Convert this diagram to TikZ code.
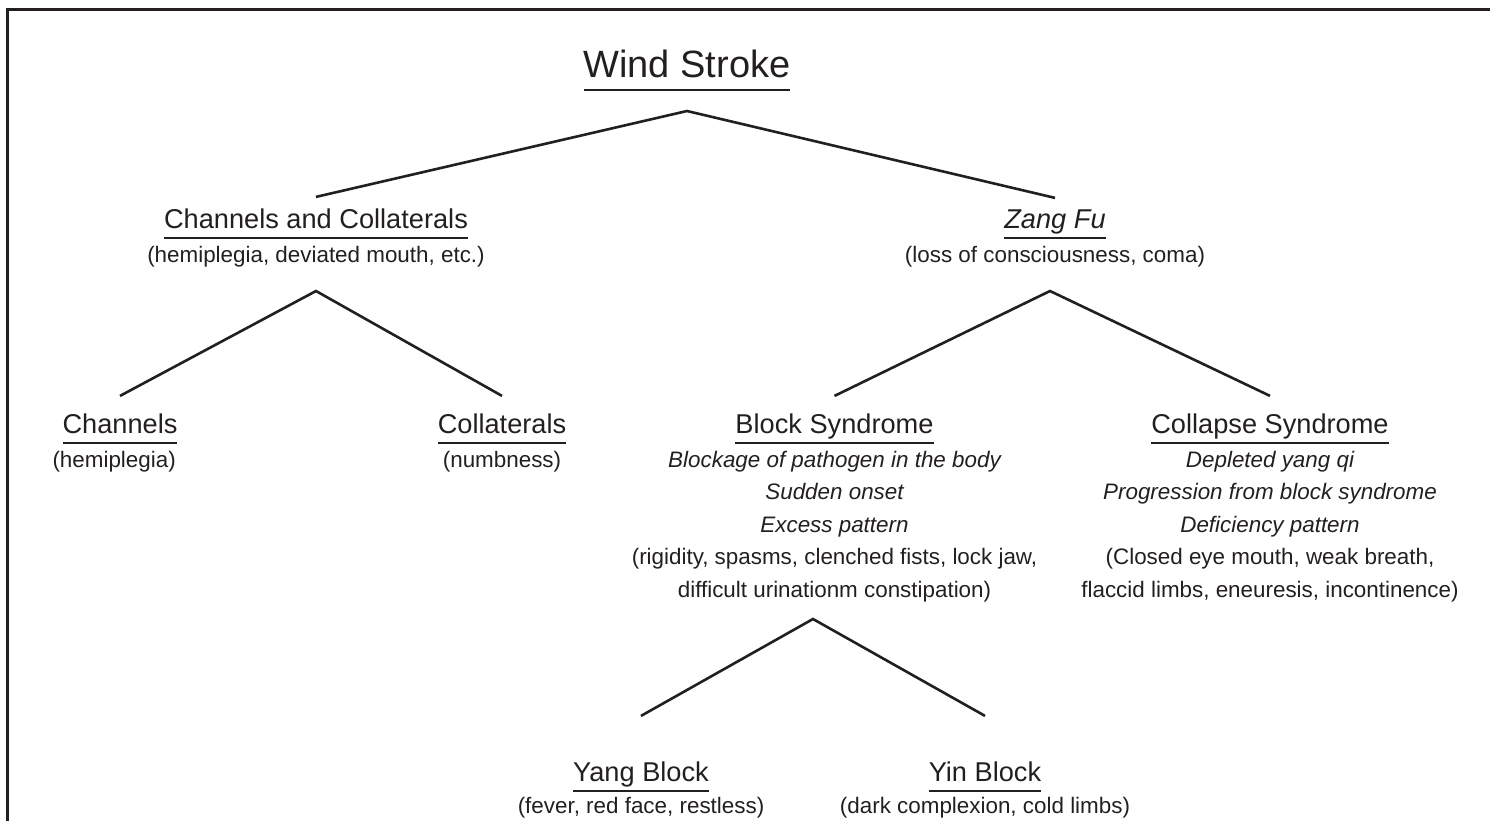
\documentclass[tikz,border=0pt]{standalone}
\usepackage{fontspec}
\setmainfont{Liberation Sans}
\usetikzlibrary{positioning}
\definecolor{ink}{RGB}{35,31,32}
% underlined heading text
\newcommand{\headul}[2][5.5pt]{\setbox0=\hbox{#2}\rlap{\rule[-#1]{\wd0}{1.2pt}}\box0}
\tikzset{
    title/.style = {
        font = \fontsize{19}{22}\selectfont,
        inner sep = 0pt,
        anchor = base,
        },
    heading/.style = {
        font = \fontsize{13.6}{16}\selectfont,
        inner sep = 0pt,
        anchor = base,
        },
    detail/.style = {
        font = \fontsize{11.2}{16.25}\selectfont,
        inner sep = 0pt,
        align = center,
        },
    branch/.style = {
        line width = 1.3pt,
        },
}

\begin{document}
\begin{tikzpicture}[x=0.5pt, y=-0.5pt, color=ink, node distance=3pt]
    \useasboundingbox (0,0) rectangle (1490,821);
    \draw[line width=1.5pt] (7.5,821) -- (7.5,9.5) -- (1490,9.5);

    \node [title] (wind) at (687,77) {\headul[7pt]{Wind Stroke}};

    \node [heading] (cc) at (316,228) {\headul{Channels and Collaterals}};
    \node [detail, below=of cc] (cc text) {(hemiplegia, deviated mouth, etc.)};
    \node [heading] (zf) at (1055,228) {\headul{\itshape Zang Fu}};
    \node [detail, below=of zf] (zf text) {(loss of consciousness, coma)};

    \node [heading] (chan) at (120,433) {\headul{Channels}};
    \node [detail, below=3pt of chan.south west, anchor=north west, xshift=-5pt] (chan text) {(hemiplegia)};
    \node [heading] (coll) at (502,433) {\headul{Collaterals}};
    \node [detail, below=of coll] (coll text) {(numbness)};

    \node [heading] (block) at (834.5,433) {\headul{Block Syndrome}};
    \node [detail, below=of block] (block text) {\itshape Blockage of pathogen in the body\\
        \itshape Sudden onset\\ \itshape Excess pattern\\
        (rigidity, spasms, clenched fists, lock jaw,\\ difficult urinationm constipation)};
    \node [heading] (collapse) at (1270,433) {\headul{Collapse Syndrome}};
    \node [detail, below=of collapse] (collapse text) {\itshape Depleted yang qi\\
        \itshape Progression from block syndrome\\ \itshape Deficiency pattern\\
        (Closed eye mouth, weak breath,\\ flaccid limbs, eneuresis, incontinence)};

    \node [heading] (yang) at (641,781) {\headul{Yang Block}};
    \node [detail, below=2pt of yang] (yang text) {(fever, red face, restless)};
    \node [heading] (yin) at (985,781) {\headul{Yin Block}};
    \node [detail, below=2pt of yin] (yin text) {(dark complexion, cold limbs)};

    \coordinate (wind fork) at (687,111);
    \coordinate (cc fork) at (316,291);
    \coordinate (zf fork) at (1050,291);
    \coordinate (block fork) at (813,619);

    \draw[branch] ([yshift=5.5pt]cc.north) -- (wind fork) -- ([yshift=5.5pt]zf.north);
    \draw[branch] ([yshift=8.5pt]chan.north) -- (cc fork) -- ([yshift=8.5pt]coll.north);
    \draw[branch] ([yshift=8.5pt]block.north) -- (zf fork) -- ([yshift=8.5pt]collapse.north);
    \draw[branch] ([yshift=22.5pt]yang.north) -- (block fork) -- ([yshift=22.5pt]yin.north);
\end{tikzpicture}
\end{document}
